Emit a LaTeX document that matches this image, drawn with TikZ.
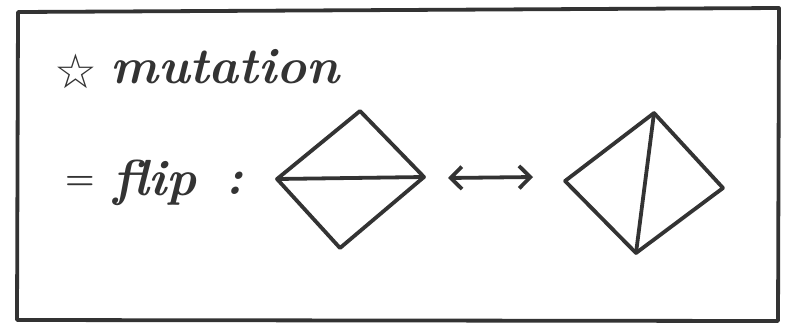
\documentclass[tikz,border=0pt]{standalone}
\usepackage{fontspec}
\newfontfamily\symfont{DejaVu Sans}
\usetikzlibrary{arrows.meta}
\definecolor{ink}{HTML}{333333}
\tikzstyle{pen} = [line width=2.7pt, draw=ink, line cap=round, line join=round]
\tikzstyle{hand} = [text=ink, inner sep=0pt, font=\fontsize{36}{40}\selectfont\bfseries\itshape]
\tikzstyle{arrow} = [pen, {Straight Barb[length=8pt,width=16pt]}-{Straight Barb[length=8pt,width=16pt]}]

\begin{document}
\begin{tikzpicture}[x=0.025cm, y=-0.025cm]
\useasboundingbox (0,0) rectangle (799,331);
\fill[white] (0,0) rectangle (799,331);
% frame
\draw [pen] (18,12) -- (779,8) -- (778,321) -- (17,320) -- cycle;
% heading
\node (star) [hand, font=\fontsize{34}{40}\selectfont\symfont\bfseries] at (76,71) {☆};
\node (title) [hand, anchor=base west] at (110,83) {mutation};
\node (eq) [hand, font=\fontsize{24}{30}\selectfont\bfseries] at (80,183) {=};
\node (flip) [hand, anchor=base west] at (113,195) {flip};
\node (colon) [hand] at (235,183) {:};
% left triangulation
\coordinate (a1) at (360,111);
\coordinate (a2) at (277,179);
\coordinate (a3) at (424,177);
\coordinate (a4) at (340,248);
\draw [pen] (a2) -- (a1) -- (a3);
\draw [pen] (a2) -- (a3);
\draw [pen] (a2) -- (a4) -- (a3);
% arrow
\coordinate (p1) at (448,178);
\coordinate (p2) at (533,177);
\draw [arrow] (p1) -- (p2);
% right triangulation
\coordinate (b1) at (654,113);
\coordinate (b2) at (565,181);
\coordinate (b3) at (723,188);
\coordinate (b4) at (636,253);
\draw [pen] (b2) -- (b1) -- (b3);
\draw [pen] (b1) -- (b4);
\draw [pen] (b2) -- (b4) -- (b3);
\end{tikzpicture}
\end{document}
